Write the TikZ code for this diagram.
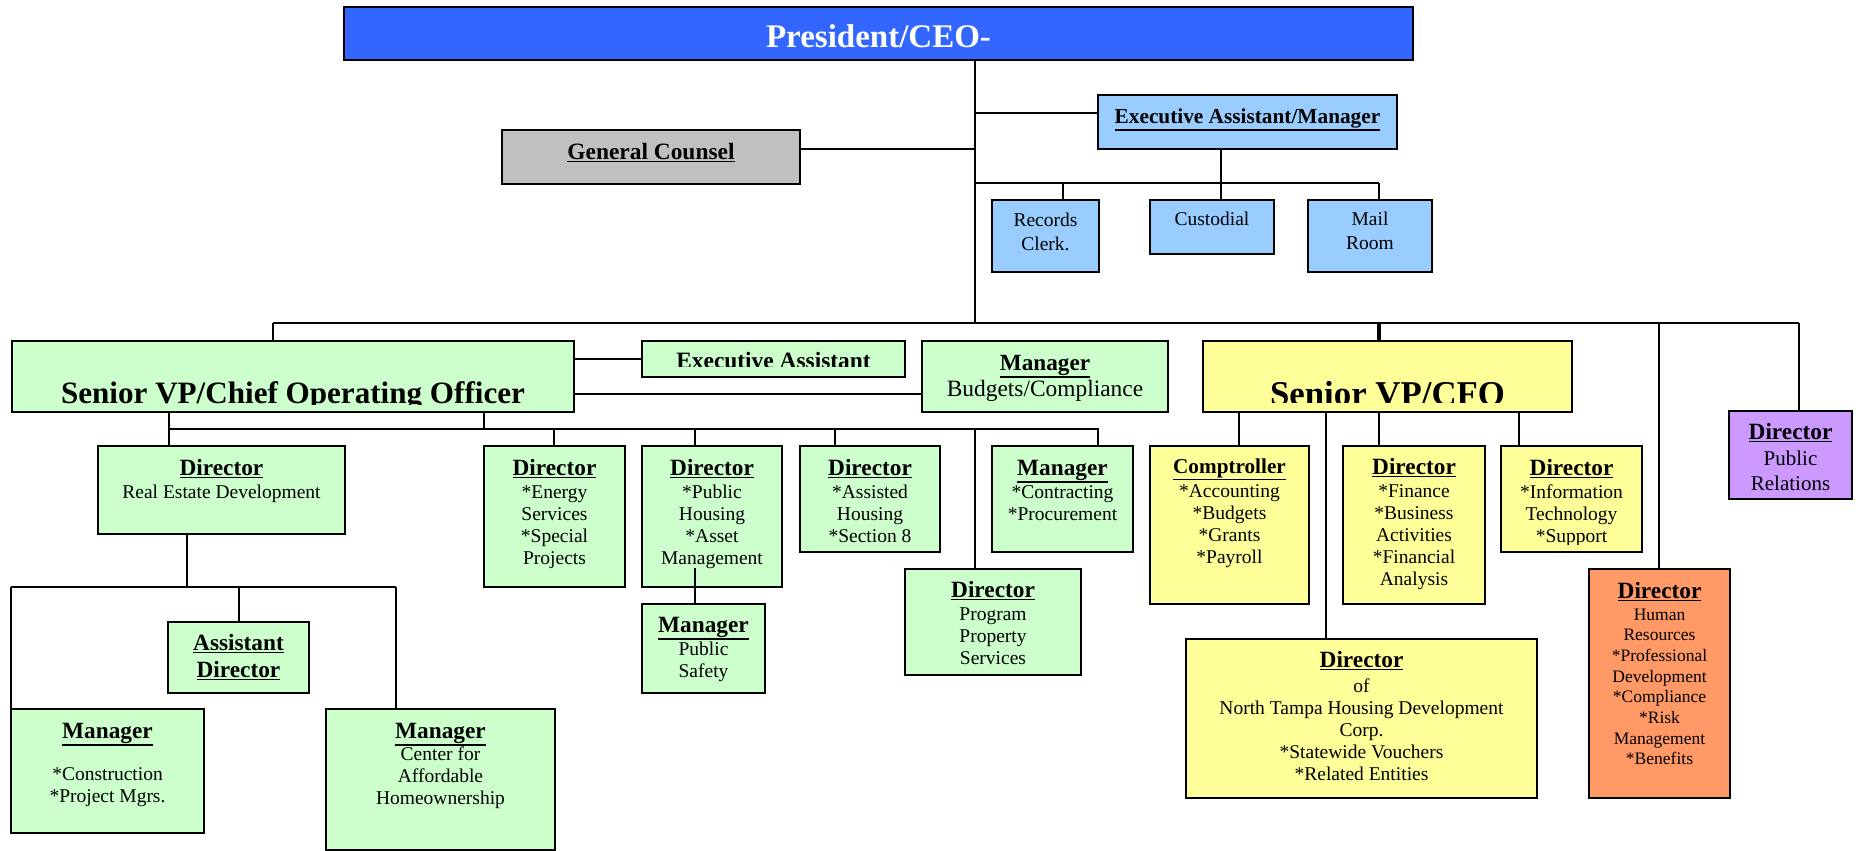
\documentclass[tikz,border=0pt]{standalone}
\usepackage{fontspec}
\setmainfont{Liberation Serif}
\definecolor{presblue}{HTML}{3366FF}
\definecolor{lblue}{HTML}{99CCFF}
\definecolor{cgray}{HTML}{C0C0C0}
\definecolor{lgreen}{HTML}{CCFFCC}
\definecolor{lyellow}{HTML}{FFFF99}
\definecolor{lorange}{HTML}{FF9966}
\definecolor{lpurple}{HTML}{CC99FF}
\newcommand\ulx[1]{\leavevmode\vtop{\hbox{#1}\kern1.3pt\hrule height 1.6pt}}
\newcommand\hd[2][23.3]{\leavevmode{\fontsize{#1}{22}\selectfont\bfseries\ulx{#2}}}
\newcommand\bxc[6]{\parbox[c][#2pt][t]{#1pt}{\centering\fontsize{#4}{#5}\selectfont\rule{0pt}{#3pt}#6\par}}
\begin{document}
\begin{tikzpicture}[x=1pt,y=-1pt,
  box/.style={draw=black, line width=1.6pt, inner sep=0pt, outer sep=0pt},
  conn/.style={draw=black, line width=1.8pt},
  heavy/.style={draw=black, line width=4pt},
  ppb/.style={inner sep=0pt, anchor=base}]
\useasboundingbox (0,0) rectangle (1856,851);

% ---------- top level ----------
\node[box, fill=presblue] (pres) at (878.5,33.5) {\bxc{1069}{53}{41}{33}{33}{\bfseries\color{white}President/CEO-}};
\node[box, fill=lblue] (eam) at (1247.5,122) {\bxc{299}{54}{28}{21}{22}{\hd[21.3]{Executive Assistant/Manager}}};
\node[box, fill=cgray] (gc) at (651,157) {\bxc{298}{54}{29}{23}{22}{\hd[23.4]{General Counsel}}};
\node[box, fill=lblue] (rec) at (1045.5,236) {\bxc{107}{72}{26}{19.5}{24}{Records\\Clerk.}};
\node[box, fill=lblue] (cust) at (1212,227) {\bxc{124}{54}{25}{19.5}{24}{Custodial}};
\node[box, fill=lblue] (mail) at (1370,236) {\bxc{124}{72}{25}{19.5}{24}{Mail\\Room}};

% ---------- second level ----------
\node[box, fill=lgreen, minimum width=562pt, minimum height=71pt,
  path picture={\clip ([yshift=8pt]path picture bounding box.south west) rectangle (path picture bounding box.north east);
  \node[ppb, font=\fontsize{31.1}{31}\selectfont\bfseries] (cooT) at ([yshift=8.5pt]path picture bounding box.south) {Senior VP/Chief Operating Officer};}] (coo) at (293,376.5) {};
\node[box, fill=lgreen, minimum width=263pt, minimum height=36pt,
  path picture={\clip ([yshift=10.5pt]path picture bounding box.south west) rectangle (path picture bounding box.north east);
  \node[ppb, font=\fontsize{23.4}{24}\selectfont\bfseries] (eaT) at ([yshift=9pt]path picture bounding box.south) {Executive Assistant};}] (ea) at (773.5,359) {};
\node[box, fill=lgreen] (mbc) at (1045,376.5) {\bxc{246}{71}{29}{23.4}{26}{\hd[23.2]{Manager}\\Budgets/Compliance}};
\node[box, fill=lyellow, minimum width=369pt, minimum height=71pt,
  path picture={\clip ([yshift=10pt]path picture bounding box.south west) rectangle (path picture bounding box.north east);
  \node[ppb, font=\fontsize{34.8}{35}\selectfont\bfseries] (cfoT) at ([yshift=7pt]path picture bounding box.south) {Senior VP/CFO};}] (cfo) at (1387.5,376.5) {};
\node[box, fill=lpurple] (pr) at (1790.5,455) {\bxc{123}{88}{28}{21}{25}{\hd{Director}\\[1pt]Public\\Relations}};

% ---------- COO branch ----------
\node[box, fill=lgreen] (red) at (221.5,490) {\bxc{247}{88}{29}{19.5}{22}{\hd{Director}\\[1pt]Real Estate Development}};
\node[box, fill=lgreen] (en) at (554.5,516.5) {\bxc{141}{141}{29}{19.5}{22}{\hd{Director}\\[1pt]*Energy\\Services\\{}*Special\\Projects}};
\node[box, fill=lgreen] (ph) at (712,516.5) {\bxc{140}{141}{29}{19.5}{22}{\hd{Director}\\[1pt]*Public\\Housing\\{}*Asset\\Management}};
\node[box, fill=lgreen] (ah) at (870,499) {\bxc{140}{106}{29}{19.5}{22}{\hd{Director}\\[1pt]*Assisted\\Housing\\{}*Section 8}};
\node[box, fill=lgreen] (con) at (1062.5,499) {\bxc{141}{106}{29}{19.5}{22}{\hd{Manager}\\[1pt]*Contracting\\{}*Procurement}};
\node[box, fill=lgreen] (pps) at (993,622) {\bxc{176}{106}{28}{19.5}{22}{\hd{Director}\\[1pt]Program\\Property\\Services}};
\node[box, fill=lgreen] (ps) at (703.5,648.5) {\bxc{123}{89}{28}{19.5}{22}{\hd{Manager}\\[1pt]Public\\Safety}};
\node[box, fill=lgreen] (ad) at (238.5,657.5) {\bxc{141}{71}{28}{19.5}{22}{\hd{Assistant}\\[5pt]\hd{Director}}};
\node[box, fill=lgreen] (mcon) at (107.5,771) {\bxc{193}{124}{29}{19.5}{22}{\hd{Manager}\\[20pt]*Construction\\{}*Project Mgrs.}};
\node[box, fill=lgreen] (cah) at (440.5,779.5) {\bxc{229}{141}{29}{19.5}{22}{\hd{Manager}\\Center for\\Affordable\\Homeownership}};

% ---------- CFO branch ----------
\node[box, fill=lyellow] (comp) at (1229.5,525) {\bxc{159}{158}{27}{19.5}{22}{\hd[21.2]{Comptroller}\\[2pt]*Accounting\\{}*Budgets\\{}*Grants\\{}*Payroll}};
\node[box, fill=lyellow] (fin) at (1414,525) {\bxc{142}{158}{28}{19.5}{22}{\hd{Director}\\[1pt]*Finance\\{}*Business\\Activities\\{}*Financial\\Analysis}};
\node[box, fill=lyellow, minimum width=141pt, minimum height=106pt,
  path picture={\clip ([yshift=8pt]path picture bounding box.south west) rectangle (path picture bounding box.north east);
  \node[inner sep=0pt] (itT) at (path picture bounding box.center) {\bxc{141}{106}{29}{19.5}{22}{\hd{Director}\\[1pt]*Information\\Technology\\{}*Support}};}] (it) at (1571.5,499) {};
\node[box, fill=lyellow] (nth) at (1361.5,718.5) {\bxc{351}{159}{28}{19.5}{22}{\hd{Director}\\[3pt]of\\North Tampa Housing Development\\Corp.\\{}*Statewide Vouchers\\{}*Related Entities}};
\node[box, fill=lorange] (hr) at (1659.5,683.5) {\bxc{141}{229}{29}{17.5}{20.7}{\hd{Director}\\[1.3pt]Human\\Resources\\{}*Professional\\Development\\{}*Compliance\\{}*Risk\\Management\\{}*Benefits}};

% ---------- junction coordinates ----------
\coordinate (tk) at (975,323);
\coordinate (eamJ) at (975,113);
\coordinate (gcJ) at (975,149);
\coordinate (subL) at (975,183);
\coordinate (subR) at (1379,183);
\coordinate (eamD) at (1221,183);
\coordinate (recJ) at (1063,183);
\coordinate (busL) at (273,323);
\coordinate (busR) at (1799,323);
\coordinate (cfoJ) at (1379,323);
\coordinate (hrJ) at (1659,323);
\coordinate (mbcJ) at (922,394);
\coordinate (cb1) at (169,429);
\coordinate (cb2) at (484,429);
\coordinate (cbR) at (1098,429);
\coordinate (cEn) at (554,429);
\coordinate (cPh) at (695,429);
\coordinate (cAh) at (835,429);
\coordinate (cPps) at (975,429);
\coordinate (psJ) at (695,568);
\coordinate (rb) at (187,587);
\coordinate (rbL) at (11,587);
\coordinate (rbM) at (239,587);
\coordinate (rbR) at (396,587);
\coordinate (xComp) at (1239,0);
\coordinate (xNth) at (1326,0);
\coordinate (xFin) at (1379,0);
\coordinate (xIt) at (1519,0);

% ---------- connectors ----------
\draw[conn] (pres.south -| tk) -- (tk);
\draw[conn] (eamJ) -- (eamJ -| eam.west);
\draw[conn] (gcJ) -- (gcJ -| gc.east);
\draw[conn] (subL) -- (subR);
\draw[conn] (eam.south -| eamD) -- (eamD);
\draw[conn] (recJ) -- (recJ |- rec.north);
\draw[conn] (eamD) -- (eamD |- cust.north);
\draw[conn] (subR) -- (subR |- mail.north);
\draw[conn] (busL) -- (busR);
\draw[conn] (busL) -- (busL |- coo.north);
\draw[heavy] (cfoJ) -- (cfoJ |- cfo.north);
\draw[conn] (hrJ) -- (hrJ |- hr.north);
\draw[conn] (busR) -- (busR |- pr.north);

\draw[conn] (coo.east |- ea.west) -- (ea.west);
\draw[conn] (mbcJ -| coo.east) -- (mbcJ);
\draw[conn] (coo.south -| cb1) -- (cb1) -- (cb1 |- red.north);
\draw[conn] (coo.south -| cb2) -- (cb2);
\draw[conn] (cb1) -- (cbR) -- (cbR |- con.north);
\draw[conn] (cEn) -- (cEn |- en.north);
\draw[conn] (cPh) -- (cPh |- ph.north);
\draw[conn] (cAh) -- (cAh |- ah.north);
\draw[conn] (cPps) -- (cPps |- pps.north);
\draw[conn] (psJ) -- (psJ |- ps.north);

\draw[conn] (red.south -| rb) -- (rb);
\draw[conn] (rbL) -- (rbR);
\draw[conn] (rbL) -- (rbL |- mcon.north);
\draw[conn] (rbM) -- (rbM |- ad.north);
\draw[conn] (rbR) -- (rbR |- cah.north);

\draw[conn] (cfo.south -| xComp) -- (comp.north -| xComp);
\draw[conn] (cfo.south -| xNth) -- (nth.north -| xNth);
\draw[conn] (cfo.south -| xFin) -- (fin.north -| xFin);
\draw[conn] (cfo.south -| xIt) -- (it.north -| xIt);
\end{tikzpicture}
\end{document}
